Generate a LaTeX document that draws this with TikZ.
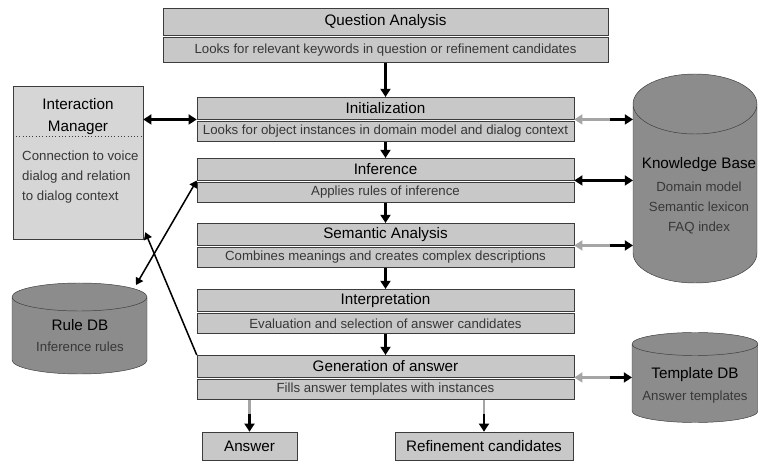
\documentclass[tikz,border=0pt]{standalone}
\usepackage{fontspec}
\setmainfont{Liberation Sans}
\usepackage{xcolor}
\usetikzlibrary{arrows.meta,positioning,calc}

\definecolor{boxgray}{RGB}{200,200,200}
\definecolor{imgray}{RGB}{214,214,214}
\definecolor{dbgray}{RGB}{140,140,140}
\definecolor{linegray}{RGB}{60,60,60}
\definecolor{txtgray}{RGB}{55,55,55}
\definecolor{arrgray}{RGB}{165,165,165}

\begin{document}
\begin{tikzpicture}[x=0.03cm, y=-0.03cm,
		stitle/.style={draw=linegray, fill=boxgray, minimum width=11.31cm, minimum height=0.66cm,
			inner sep=0pt, font=\fontsize{13}{15}\selectfont},
		sdesc/.style={draw=linegray, fill=boxgray, minimum width=11.31cm, minimum height=0.6cm,
			inner sep=0pt, text=txtgray, font=\fontsize{11.3}{13}\selectfont},
		endbox/.style={draw=linegray, fill=boxgray, minimum height=0.84cm, inner sep=0pt,
			font=\fontsize{13}{15}\selectfont},
		dbtitle/.style={font=\fontsize{13}{15}\selectfont},
		dbtext/.style={text=txtgray, align=center, font=\fontsize{11.3}{17}\selectfont},
		flow/.style={line width=2pt, -{Triangle[length=7pt,width=8.5pt]}},
		link/.style={line width=2pt, {Triangle[length=7pt,width=8.5pt]}-{Triangle[length=7pt,width=8.5pt]}},
		thinflow/.style={line width=1.3pt, -{Triangle[length=6pt,width=7pt]}},
		thinlink/.style={line width=1.3pt, {Triangle[length=6pt,width=7pt]}-{Triangle[length=6pt,width=7pt]}},
		halfgray/.style={line width=2.5pt, arrgray, {Triangle[length=7pt,width=8.5pt]}-},
		halfblack/.style={line width=2pt, -{Triangle[length=7pt,width=8.5pt]}}
	]
	\useasboundingbox (0,0) rectangle (758,461);
	
	% --- databases (cylinders) ---
	\foreach \cx/\rx/\yt/\yb/\ry in {695/62/104/253/30, 79.5/67.5/297/360/14, 695/63/344/411/11.5} {
		\draw[draw=linegray, fill=dbgray]
		(\cx-\rx,\yt) -- (\cx-\rx,\yb) arc[start angle=180, end angle=0, x radius=\rx, y radius=\ry]
		-- (\cx+\rx,\yt) arc[start angle=0, end angle=-180, x radius=\rx, y radius=\ry] -- cycle
		(\cx-\rx,\yt) arc[start angle=180, end angle=0, x radius=\rx, y radius=\ry];
	}
	\node[dbtitle] (kbtitle) at (699,165) {Knowledge Base};
	\node[dbtext, anchor=north] (kbdesc) at (699,178) {Domain model\\Semantic lexicon\\FAQ index};
	\node[dbtitle] (rdbtitle) at (80,325) {Rule DB};
	\node[dbtext] (rdbdesc) at (80,347) {Inference rules};
	\node[dbtitle] (tdbtitle) at (695,375) {Template DB};
	\node[dbtext] (tdbdesc) at (695,397) {Answer templates};
	
	% connector ends on the databases
	\coordinate (kb) at (633,180);
	\coordinate (kbmid) at (610,180);
	\coordinate (tdb) at (632,379);
	\coordinate (tdbmid) at (610,379);
	\coordinate (rdb) at (136,285);
	
	% --- interaction manager ---
	\node[draw=linegray, fill=imgray, minimum width=3.9cm, minimum height=4.59cm] (im) at (78,162.5) {};
	\draw[linegray, dotted, thick] ($(im.north west)+(0,51)$) -- ($(im.north east)+(0,51)$);
	\node[align=center, font=\fontsize{13}{19.5}\selectfont] (imtitle) at (78,116.5) {Interaction\\Manager};
	\node[anchor=north west, align=left, text=txtgray, inner sep=0pt,
		font=\fontsize{11.3}{17}\selectfont] (imdesc) at (22,151) {Connection to voice\\dialog and relation\\to dialog context};
	\coordinate (imend) at ($(im.south east)+(2,-7)$);
	
	% --- question analysis ---
	\node[stitle, minimum width=13.35cm, minimum height=0.81cm, anchor=north] (qt) at (385.5,8) {Question Analysis};
	\node[sdesc, minimum width=13.35cm, minimum height=0.75cm, below=1.5pt of qt] (qd)
	{Looks for relevant keywords in question or refinement candidates};
	
	% --- processing stages ---
	\foreach \n/\y/\ttl/\dsc in {
		1/97/Initialization/Looks for object instances in domain model and dialog context,
		2/158/Inference/Applies rules of inference,
		3/223/Semantic Analysis/Combines meanings and creates complex descriptions,
		4/289/Interpretation/Evaluation and selection of answer candidates,
		5/355/Generation of answer/Fills answer templates with instances} {
		\node[stitle, anchor=north] (t\n) at (385.5,\y) {\ttl};
		\node[sdesc, below=1.5pt of t\n] (d\n) {\dsc};
	}
	
	% --- results ---
	\node[endbox, minimum width=2.85cm] (ans) at (249.5,446) {Answer};
	\node[endbox, minimum width=5.34cm] (ref) at (484,446) {Refinement candidates};
	
	% --- main flow ---
	\draw[flow] (qd.south) -- (t1.north);
	\foreach \a/\b in {1/2, 2/3, 3/4, 4/5}
	\draw[flow] (d\a.south) -- (t\b.north);
	
	% --- links to the knowledge base ---
	\foreach \n in {1,3} {
		\draw[halfgray] (t\n.south east) -- (t\n.south east -| kbmid);
		\draw[halfblack] (t\n.south east -| kbmid) -- (t\n.south east -| kb);
	}
	\draw[link] (t2.south east) -- (t2.south east -| kb);
	
	% --- template db ---
	\draw[halfgray] (t5.south east) -- (t5.south east -| tdbmid);
	\draw[halfblack] (t5.south east -| tdbmid) -- (t5.south east -| tdb);
	
	% --- interaction manager and rule db ---
	\draw[link] (im.east |- t1.south west) -- (t1.south west);
	\draw[thinlink] (rdb) -- (t2.south west);
	\draw[thinflow] (t5.north west) -- (imend);
	
	% --- outputs ---
	\foreach \o in {ans, ref} {
		\coordinate (\o mid) at ($(\o.north)+(0,-18)$);
		\draw[line width=2.5pt, arrgray] (d5.south -| \o mid) -- (\o mid);
		\draw[flow] (\o mid) -- (\o.north);
	}
	
\end{tikzpicture}
\end{document}
